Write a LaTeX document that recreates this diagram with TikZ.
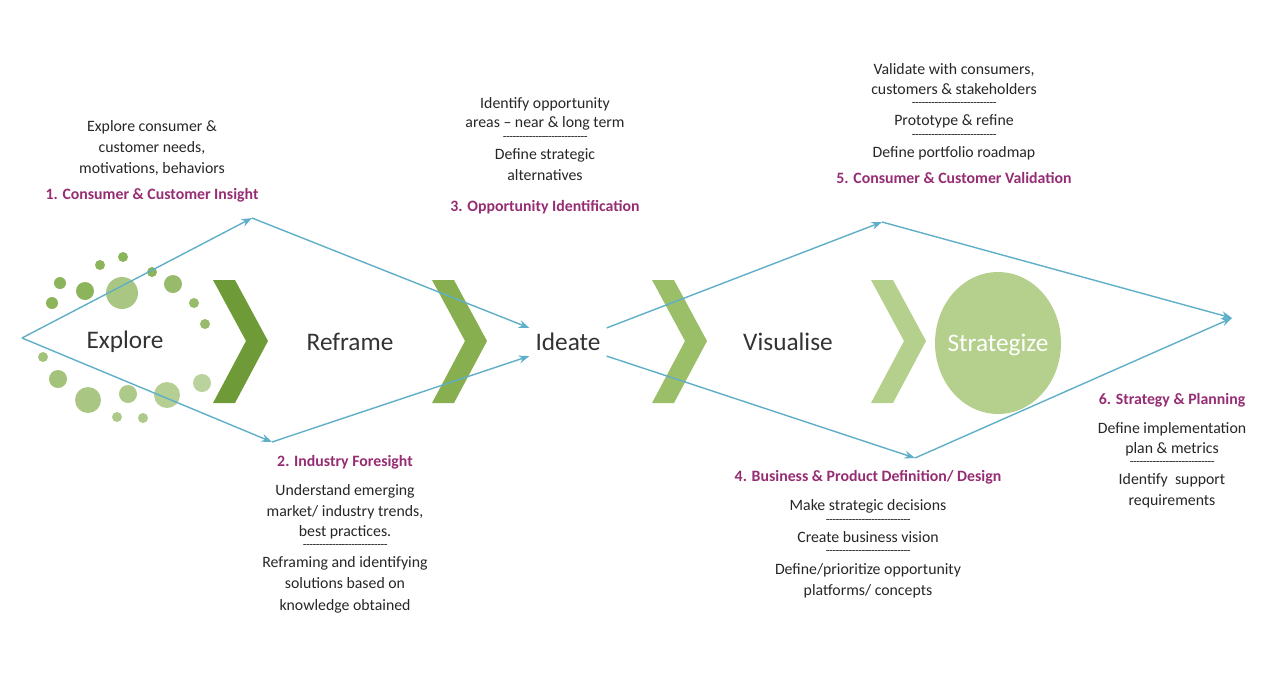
\documentclass[tikz,border=0pt]{standalone}
\usepackage{fontspec}
\setmainfont{Carlito}
\usetikzlibrary{arrows.meta,positioning}
\definecolor{flowblue}{RGB}{95,175,200}
\definecolor{headpurple}{RGB}{150,45,115}
\definecolor{greenA}{RGB}{110,155,55}
\definecolor{greenB}{RGB}{135,175,80}
\definecolor{greenC}{RGB}{155,190,105}
\definecolor{greenD}{RGB}{180,208,140}
\definecolor{dotgreen}{RGB}{140,180,90}
\newcommand\dashrow{\scriptsize\foreach \i in {1,...,26}{-\kern-0.3pt}}
\begin{document}
\begin{tikzpicture}[x=0.02cm,y=-0.02cm,
  flow/.style={draw=flowblue,thick,-{Stealth[length=6pt]}},
  head/.style={text=headpurple,font=\small\bfseries},
  desc/.style={align=center,font=\small,text=black!85},
  stage/.style={font=\Large,text=black!80}]
\useasboundingbox (0,0) rectangle (1280,684);

% dots around explore
\foreach \x/\y/\r/\o in {123/257/5/1,100/265/5/1,152/272/5/1,60/283/6/1,85/291/9/1,
  122/293/16/.75,173/284/9/.9,52/303/6/1,194/303/5/.9,205/324/5/.9,43/357/5/.8,
  58/379/9/.8,88/400/13/.75,128/394/9/.7,167/395/13/.65,202/383/9/.6,117/417/5/.7,143/418/5/.7}
  \fill[dotgreen,opacity=\o] (\x,\y) circle[radius=\r*0.02cm];

% chevrons
\foreach \x/\c in {213/greenA,432/greenB,652/greenC,871/greenD}
  \fill[\c] (\x,280) -- ++(22,0) -- ++(33,61) -- ++(-33,62) -- ++(-22,0) -- ++(33,-62) -- cycle;
\fill[greenD] (998,343) ellipse[x radius=63*0.02cm,y radius=71*0.02cm];

% stages
\node[stage] (explore) at (125,342) {Explore};
\node[stage] (reframe) at (350,342) {Reframe};
\node[stage] (ideate) at (568,342) {Ideate};
\node[stage] (visual) at (788,342) {Visualise};
\node[stage,text=white] (strat) at (998,345) {Strategize};

% flow lines
\coordinate (start) at (22,338);
\coordinate (p1) at (252,218);
\coordinate (p2) at (272,442);
\coordinate (p5) at (882,222);
\coordinate (p4) at (915,458);
\coordinate (end) at (1232,318);
\draw[flow] (start) -- (p1);
\draw[flow] (start) -- (p2);
\draw[flow] (p1) -- (ideate.160);
\draw[flow] (p2) -- (ideate.200);
\draw[flow] (ideate.20) -- (p5);
\draw[flow] (ideate.340) -- (p4);
\draw[flow] (p5) -- (end);
\draw[flow] (p4) -- (end);

% headings and texts
\node[head] (h1) at (152,195) {1. Consumer \& Customer Insight};
\node[desc,above=0pt of h1] (t1) {Explore consumer \&\\[1pt]customer needs,\\[1pt]motivations, behaviors};
\node[head] (h2) at (345,462) {2. Industry Foresight};
\node[desc,below=2pt of h2] (t2) {Understand emerging\\[1pt]market/ industry trends,\\best practices.\\[-4pt]\dashrow\\Reframing and identifying\\[1pt]solutions based on\\[1pt]knowledge obtained};
\node[head] (h3) at (545,207) {3. Opportunity Identification};
\node[desc,above=4pt of h3] (t3) {Identify opportunity\\areas -- near \& long term\\[-4pt]\dashrow\\Define strategic\\[1pt]alternatives};
\node[head] (h4) at (868,477) {4. Business \& Product Definition/ Design};
\node[desc,below=2pt of h4] (t4) {Make strategic decisions\\[-4pt]\dashrow\\Create business vision\\[-4pt]\dashrow\\Define/prioritize opportunity\\[1pt]platforms/ concepts};
\node[head] (h5) at (954,178) {5. Consumer \& Customer Validation};
\node[desc,above=0pt of h5] (t5) {Validate with consumers,\\customers \& stakeholders\\[-4pt]\dashrow\\Prototype \& refine\\[-4pt]\dashrow\\Define portfolio roadmap};
\node[head] (h6) at (1172,400) {6. Strategy \& Planning};
\node[desc,below=2pt of h6] (t6) {Define implementation\\plan \& metrics\\[-4pt]\dashrow\\Identify\ \ support\\[1pt]requirements};
\end{tikzpicture}
\end{document}
